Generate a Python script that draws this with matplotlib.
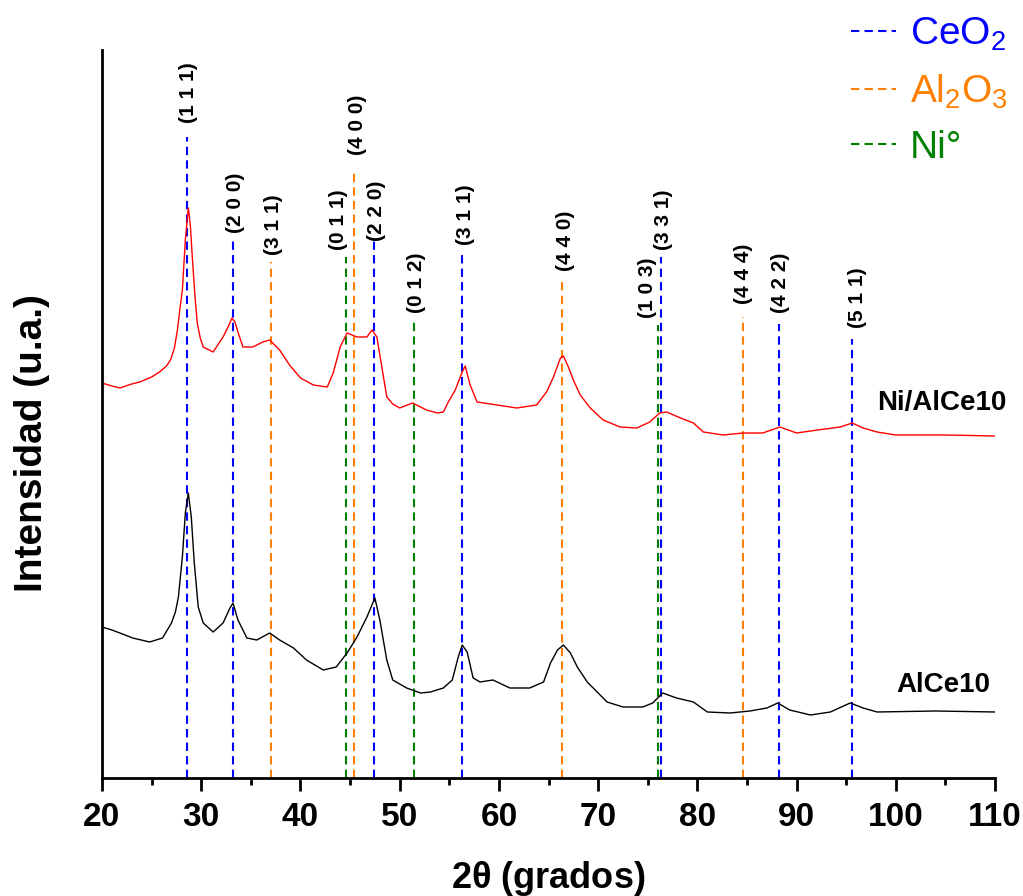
import matplotlib
matplotlib.use('Agg')
import matplotlib.pyplot as plt
from matplotlib.ticker import MultipleLocator

plt.rcParams['font.family'] = ['Liberation Sans', 'DejaVu Sans']
plt.rcParams['mathtext.default'] = 'regular'

# Ni/AlCe10 pattern (red), intensity in arbitrary units
two_theta_ni = [20.0, 21.0, 21.8, 23.0, 23.8, 25.0, 25.8, 26.5, 26.9, 27.3, 27.6, 27.9,
                28.1, 28.4, 28.7, 28.9, 29.1, 29.4, 29.6, 29.9, 30.2, 31.2, 32.2, 32.7,
                33.1, 33.4, 33.7, 34.2, 35.2, 36.2, 36.9, 37.9, 38.9, 40.0, 41.3, 42.7,
                43.3, 44.0, 44.7, 45.7, 46.7, 47.2, 47.7, 48.2, 48.7, 49.3, 50.0, 51.3,
                52.7, 53.8, 54.4, 54.9, 55.6, 56.3, 56.6, 57.1, 57.8, 59.8, 61.8, 63.8,
                64.8, 65.5, 66.2, 66.5, 67.0, 67.5, 68.2, 69.2, 70.5, 72.2, 73.9, 75.2,
                76.2, 76.9, 78.3, 79.6, 80.6, 82.6, 84.6, 86.6, 88.3, 90.0, 92.1, 94.4,
                95.6, 96.7, 98.1, 100.0, 105.0, 110.0]
int_ni = [395, 392, 390, 394, 396, 401, 406, 412, 418, 430, 448, 473,
          488, 538, 570, 553, 521, 478, 455, 440, 431, 426, 441, 451,
          460, 456, 446, 431, 431, 436, 438, 428, 413, 400, 393, 391,
          405, 431, 445, 441, 441, 448, 441, 411, 381, 374, 370, 375,
          368, 365, 366, 376, 388, 406, 412, 393, 376, 373, 370, 373,
          386, 401, 420, 422, 411, 398, 383, 370, 358, 351, 350, 356,
          365, 366, 360, 355, 346, 343, 345, 345, 351, 345, 348, 351,
          355, 350, 346, 343, 343, 342]

# AlCe10 pattern (black)
two_theta_al = [20.0, 21.0, 21.8, 23.1, 24.8, 26.1, 27.0, 27.4, 27.7, 28.1, 28.4, 28.7,
                29.0, 29.3, 29.7, 30.2, 31.2, 32.2, 32.9, 33.2, 33.7, 34.6, 35.6, 36.9,
                37.9, 39.3, 40.6, 42.3, 43.6, 44.7, 45.7, 46.7, 47.5, 48.0, 48.7, 49.3,
                50.7, 52.1, 53.1, 54.4, 55.3, 55.9, 56.3, 56.8, 57.4, 58.1, 59.4, 61.1,
                63.1, 64.5, 65.2, 65.9, 66.5, 67.2, 67.9, 68.9, 69.9, 70.9, 72.5, 74.5,
                75.5, 76.5, 77.9, 79.6, 81.0, 83.3, 85.3, 87.0, 88.1, 89.3, 91.4, 93.4,
                95.4, 96.7, 98.1, 104.0, 110.0]
int_al = [151, 148, 145, 140, 136, 140, 155, 166, 181, 221, 265, 285,
          261, 215, 171, 155, 146, 155, 170, 175, 158, 140, 138, 145,
          138, 130, 118, 108, 111, 125, 141, 161, 180, 158, 118, 98,
          90, 85, 86, 90, 98, 121, 133, 126, 100, 96, 98, 90,
          90, 96, 115, 128, 133, 125, 111, 96, 86, 76, 71, 71,
          75, 85, 80, 76, 66, 65, 67, 70, 75, 68, 63, 66,
          75, 70, 66, 67, 66]

# reference reflections: position, top of the marker line, hkl
ceo2_pos = [28.6, 33.2, 47.4, 56.3, 76.3, 88.2, 95.6]
ceo2_top = [641, 538, 540, 526, 521, 454, 439]
ceo2_hkl = ['(1 1 1)', '(2 0 0)', '(2 2 0)', '(3 1 1)', '(3 3 1)', '(4 2 2)', '(5 1 1)']

al2o3_pos = [37.0, 45.4, 66.4, 84.6]
al2o3_top = [516, 606, 500, 461]
al2o3_hkl = ['(3 1 1)', '(4 0 0)', '(4 4 0)', '(4 4 4)']

ni_pos = [44.6, 51.4, 76.0]
ni_top = [521, 458, 453]
ni_hkl = ['(0 1 1)', '(0 1 2)', '(1 0 3)']

phases = [
    (ceo2_pos, ceo2_top, ceo2_hkl, '#0000ff', r'CeO$_2$'),
    (al2o3_pos, al2o3_top, al2o3_hkl, '#ff8000', r'Al$_2$O$_3$'),
    (ni_pos, ni_top, ni_hkl, '#008000', 'Ni°'),
]

# small nudges so labels don't collide (dx in degrees, dy in intensity)
nudge = {'(1 1 1)': (0.1, 7), '(0 1 1)': (-0.8, 0), '(4 0 0)': (0.3, 10),
         '(2 2 0)': (0.3, -10), '(1 0 3)': (-1.0, 0), '(4 4 4)': (0.0, 6),
         '(4 2 2)': (0.2, 4), '(5 1 1)': (0.5, 4)}

fig = plt.figure(figsize=(10.23, 8.96), dpi=100)
ax = fig.add_axes([0.0997, 0.1317, 0.873, 0.8125])

for pos, top, hkl, col, name in phases:
    ax.vlines(pos, 0, top, colors=col, linestyles=(0, (4, 2.5)), linewidth=1.5, label=name)
    for p, t, h in zip(pos, top, hkl):
        dx, dy = nudge.get(h, (0.3, 0))
        ax.text(p + dx, t + 7 + dy, h, rotation=90, ha='center', va='bottom',
                fontsize=15, fontweight='bold')

ax.plot(two_theta_ni, int_ni, color='red', linewidth=1.0)
ax.plot(two_theta_al, int_al, color='black', linewidth=1.0)

ax.text(111.2, 375, 'Ni/AlCe10', ha='right', va='center', fontsize=20, fontweight='bold')
ax.text(109.5, 93, 'AlCe10', ha='right', va='center', fontsize=20, fontweight='bold')

ax.set_xlim(20, 110)
ax.set_ylim(0, 728)
ax.xaxis.set_major_locator(MultipleLocator(10))
ax.xaxis.set_minor_locator(MultipleLocator(5))
ax.set_yticks([])
for s in ['top', 'right']:
    ax.spines[s].set_visible(False)
for s in ['left', 'bottom']:
    ax.spines[s].set_linewidth(2.0)
ax.tick_params(axis='x', which='major', direction='out', length=9, width=2, pad=8,
               labelsize=24)
ax.tick_params(axis='x', which='minor', direction='out', length=5, width=2)
for lab in ax.get_xticklabels():
    lab.set_fontweight('bold')

ax.set_xlabel(r'2$\theta$ (grados)', fontsize=26, fontweight='bold', labelpad=19)
ax.set_ylabel('Intensidad (u.a.)', fontsize=28, fontweight='bold')
ax.yaxis.set_label_coords(-0.058, 0.46)

leg = ax.legend(loc='upper right', bbox_to_anchor=(1.0, 1.0), bbox_transform=fig.transFigure,
                frameon=False, fontsize=28, handlelength=1.15, handletextpad=0.35,
                labelspacing=0.5, borderaxespad=0.0)
for txt, (_, _, _, col, _) in zip(leg.get_texts(), phases):
    txt.set_color(col)

fig.savefig('out.png', dpi=100)
